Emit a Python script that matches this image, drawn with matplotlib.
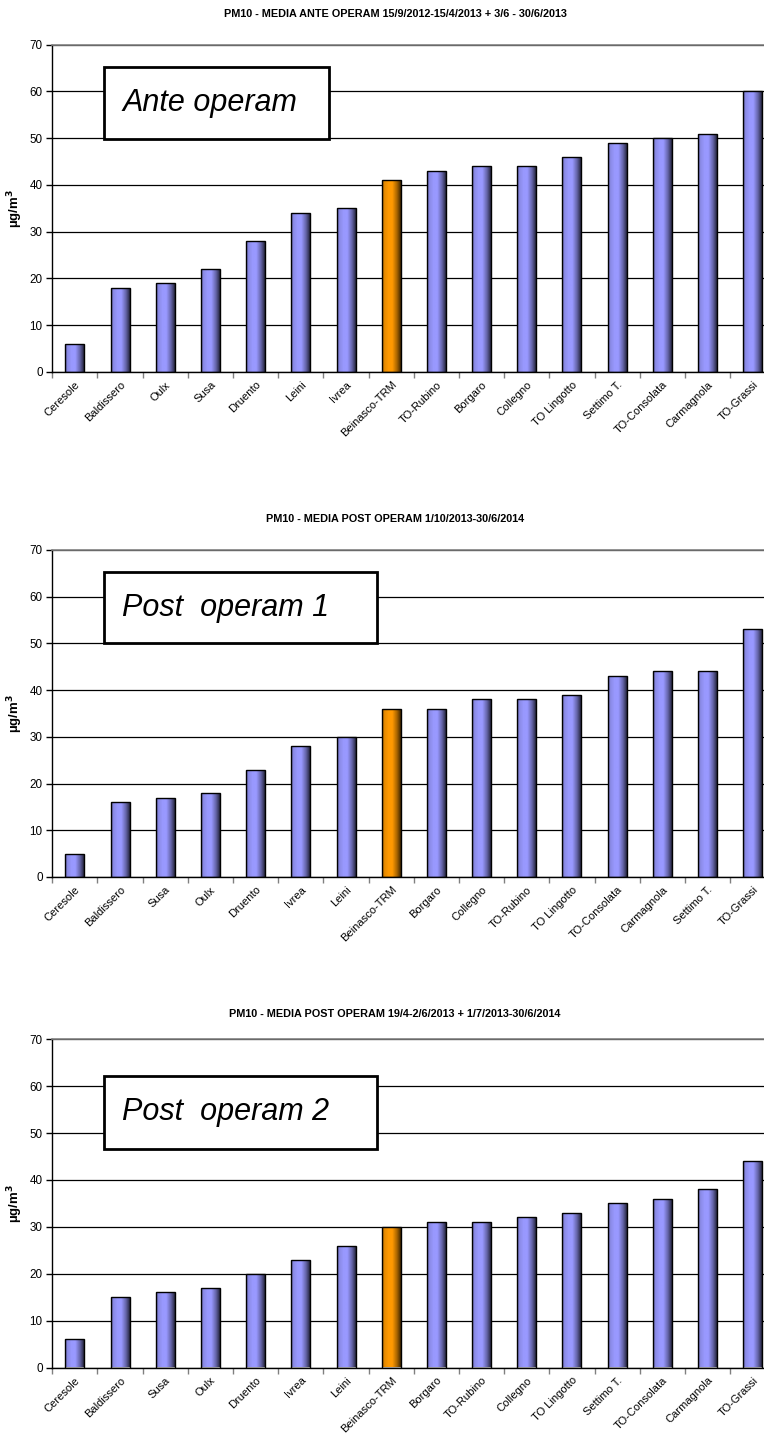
import numpy as np
import matplotlib
matplotlib.use("Agg")
import matplotlib.pyplot as plt
from matplotlib.patches import Rectangle

plt.rcParams['font.family'] = ['Liberation Sans', 'DejaVu Sans']

# ---------------- data ----------------
titles = [
    "PM10 - MEDIA ANTE OPERAM 15/9/2012-15/4/2013 + 3/6 - 30/6/2013",
    "PM10 - MEDIA POST OPERAM 1/10/2013-30/6/2014",
    "PM10 - MEDIA POST OPERAM 19/4-2/6/2013 + 1/7/2013-30/6/2014",
]
box_labels = ["Ante operam", "Post  operam 1", "Post  operam 2"]

stations_ante = ["Ceresole", "Baldissero", "Oulx", "Susa", "Druento", "Leini", "Ivrea",
                 "Beinasco-TRM", "TO-Rubino", "Borgaro", "Collegno", "TO Lingotto",
                 "Settimo T.", "TO-Consolata", "Carmagnola", "TO-Grassi"]
values_ante = [6, 18, 19, 22, 28, 34, 35, 41, 43, 44, 44, 46, 49, 50, 51, 60]

stations_post1 = ["Ceresole", "Baldissero", "Susa", "Oulx", "Druento", "Ivrea", "Leini",
                  "Beinasco-TRM", "Borgaro", "Collegno", "TO-Rubino", "TO Lingotto",
                  "TO-Consolata", "Carmagnola", "Settimo T.", "TO-Grassi"]
values_post1 = [5, 16, 17, 18, 23, 28, 30, 36, 36, 38, 38, 39, 43, 44, 44, 53]

stations_post2 = ["Ceresole", "Baldissero", "Susa", "Oulx", "Druento", "Ivrea", "Leini",
                  "Beinasco-TRM", "Borgaro", "TO-Rubino", "Collegno", "TO Lingotto",
                  "Settimo T.", "TO-Consolata", "Carmagnola", "TO-Grassi"]
values_post2 = [6, 15, 16, 17, 20, 23, 26, 30, 31, 31, 32, 33, 35, 36, 38, 44]

highlight = "Beinasco-TRM"
y_ticks = [0, 10, 20, 30, 40, 50, 60, 70]

# ---------------- styling ----------------
W, H = 764, 1434
fig = plt.figure(figsize=(W / 100, H / 100), dpi=100)

BLUE = np.array([153, 153, 255]) / 255.0
ORANGE = np.array([255, 153, 0]) / 255.0

tpos = np.array([0.0, 0.12, 0.35, 0.55, 0.8, 1.0])
tfac = np.array([0.6, 0.9, 1.0, 1.0, 0.65, 0.25])


def gradient(base, n=64):
    t = np.linspace(0, 1, n)
    f = np.interp(t, tpos, tfac)
    img = np.clip(base[None, :] * f[:, None], 0, 1)
    return img[None, :, :]


panels = [
    dict(top=44.7, bottom=372.0, title_y=14, stations=stations_ante, values=values_ante,
         box=(0.0715, 0.383, 65.2, 49.8)),
    dict(top=550.0, bottom=877.0, title_y=519, stations=stations_post1, values=values_post1,
         box=(0.0715, 0.449, 65.3, 50.0)),
    dict(top=1039.3, bottom=1367.5, title_y=1014, stations=stations_post2, values=values_post2,
         box=(0.0715, 0.449, 62.2, 46.7)),
]

ax_left_px = 52.3
ax_width_px = 723.0

for i, p in enumerate(panels):
    ax = fig.add_axes([ax_left_px / W, 1 - p['bottom'] / H,
                       ax_width_px / W, (p['bottom'] - p['top']) / H])
    x = np.arange(len(p['stations']))
    colors = [ORANGE if s == highlight else BLUE for s in p['stations']]
    bars = ax.bar(x, p['values'], width=0.42, color='none', edgecolor='black',
                  linewidth=1.0, zorder=3)
    for b, c in zip(bars, colors):
        bx, by = b.get_x(), b.get_y()
        bw, bh = b.get_width(), b.get_height()
        im = ax.imshow(gradient(c), extent=[bx, bx + bw, by, by + bh],
                       aspect='auto', interpolation='bilinear', zorder=2.5)
        im.set_clip_path(b)

    ax.set_xlim(-0.5, len(x) - 0.5)
    ax.set_ylim(0, 70)
    ax.set_yticks(y_ticks)
    ax.set_yticklabels([str(v) for v in y_ticks], fontsize=8.4)
    ax.set_xticks(x - 0.5, minor=False)
    ax.set_xticklabels([])
    ax.set_xticks(x, minor=True)
    ax.set_xticklabels(p['stations'], minor=True, rotation=45, ha='right',
                       rotation_mode='anchor', fontsize=8.0)
    ax.tick_params(axis='x', which='minor', length=0, pad=5.5)
    ax.tick_params(axis='x', which='major', length=4, color='#808080', width=1)
    ax.tick_params(axis='y', length=4, width=1, pad=3)
    ax.set_axisbelow(True)
    ax.yaxis.grid(True, color='black', linewidth=0.9)
    ax.xaxis.grid(False)
    for side in ['left', 'bottom']:
        ax.spines[side].set_color('black')
        ax.spines[side].set_linewidth(1.0)
    ax.spines['top'].set_color('#808080')
    ax.spines['top'].set_linewidth(1.2)
    ax.spines['top'].set_zorder(5)
    ax.spines['right'].set_color('#808080')

    ax.set_ylabel("µg/m$^\\mathbf{3}$", fontsize=9.5, fontweight='bold', labelpad=3)

    bx0, bx1, by1, by0 = p['box']
    trans = ax.get_yaxis_transform()
    rect = Rectangle((bx0, by0), bx1 - bx0, by1 - by0, transform=trans,
                     facecolor='white', edgecolor='black', linewidth=2.0, zorder=6)
    ax.add_patch(rect)
    ax.text(bx0 + 0.025, (by0 + by1) / 2, box_labels[i], transform=trans,
            fontsize=22, fontstyle='italic', va='center', ha='left', zorder=7)

    fig.text(395 / W, 1 - p['title_y'] / H, titles[i], ha='center', va='center',
             fontsize=7.8, fontweight='bold')

fig.savefig("out.png", dpi=100)
